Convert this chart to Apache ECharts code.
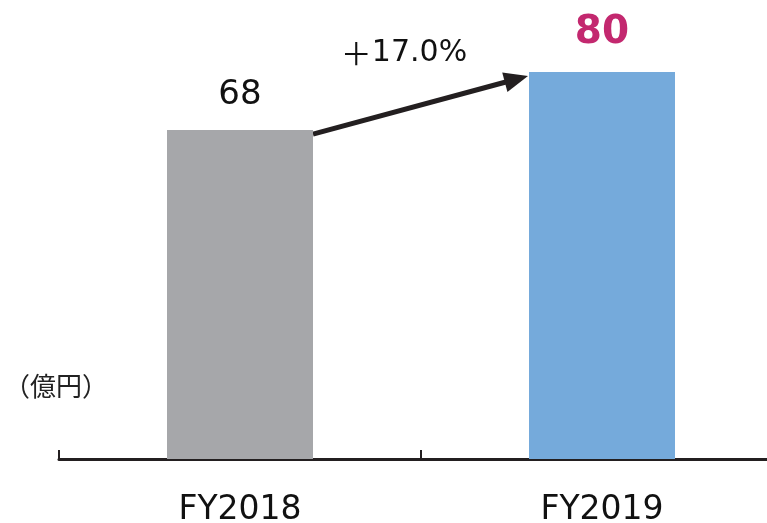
<!DOCTYPE html>
<html><head><meta charset="utf-8">
<script src="https://cdn.jsdelivr.net/npm/echarts@6/dist/echarts.min.js"></script>
<style>html,body{margin:0;padding:0;background:#fff}#c{width:767px;height:523px}</style>
</head><body><div id="c"></div>
<script>
const categories = ['FY2018', 'FY2019'];
const values = [68, 80];
const barColors = ['#a6a7aa', '#75aadb'];
const growthLabel = '17.0%';
const unitLabel = '（億円）';

const chart = echarts.init(document.getElementById('c'));
const BW = 146;
chart.setOption({
  animation: false,
  grid: { left: 59, width: 724, top: 72, bottom: 64, containLabel: false, outerBoundsMode: 'none' },
  xAxis: {
    type: 'category', data: categories,
    axisLine: { lineStyle: { color: '#231f20', width: 3 } },
    axisTick: { show: true, inside: true, length: 9, lineStyle: { color: '#231f20', width: 2 } },
    axisLabel: { margin: 35, fontSize: 33, color: '#111', fontFamily: 'DejaVu Sans' }
  },
  yAxis: { type: 'value', min: 0, max: 80, show: false },
  series: [{
    type: 'bar', barWidth: BW,
    data: values.map((v, i) => ({
      value: v,
      itemStyle: { color: barColors[i] },
      label: i === 1
        ? { show: true, position: 'top', distance: 20, fontSize: 39, fontWeight: 'bold', color: '#c3286f', fontFamily: 'DejaVu Sans' }
        : { show: true, position: 'top', distance: 18, fontSize: 34, color: '#111', fontFamily: 'DejaVu Sans' }
    }))
  }]
});

const p0 = chart.convertToPixel({ seriesIndex: 0 }, [0, values[0]]);
const p1 = chart.convertToPixel({ seriesIndex: 0 }, [1, values[1]]);
const x0 = p0[0] + BW / 2, y0 = p0[1] + 4;
const x1 = p1[0] - BW / 2 - 1, y1 = p1[1] + 4;
const ang = Math.atan2(y1 - y0, x1 - x0);
const hl = 24, hw = 10;
const bx = x1 - hl * Math.cos(ang), by = y1 - hl * Math.sin(ang);
const nx = -Math.sin(ang), ny = Math.cos(ang);
chart.setOption({
  graphic: [
    { type: 'line', shape: { x1: x0, y1: y0, x2: bx + 2 * Math.cos(ang), y2: by + 2 * Math.sin(ang) }, style: { stroke: '#231f20', lineWidth: 5 } },
    { type: 'polygon', shape: { points: [[x1, y1], [bx + nx * hw, by + ny * hw], [bx - nx * hw, by - ny * hw]] }, style: { fill: '#231f20' } },
    { type: 'text', x: 404, y: 53, style: {
        text: '{p|＋}' + growthLabel, align: 'center', verticalAlign: 'middle',
        fontSize: 30, fontFamily: 'DejaVu Sans', fill: '#111',
        rich: { p: { fontFamily: 'Noto Sans CJK JP', fontSize: 31, fill: '#111' } }
    } },
    { type: 'text', x: 4, y: 386, style: { text: unitLabel, fontFamily: 'Noto Sans CJK JP', fontSize: 26, fill: '#222', verticalAlign: 'middle' } }
  ]
});
</script></body></html>
